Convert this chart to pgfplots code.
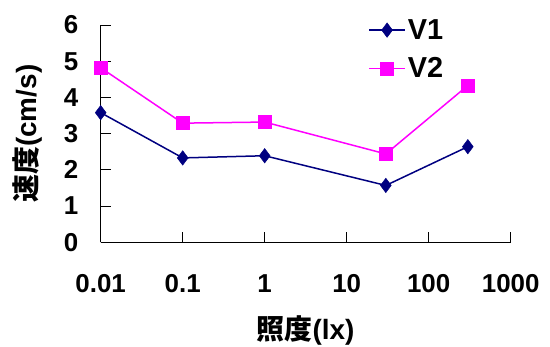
\documentclass[border=0pt]{standalone}
\usepackage{fontspec}
\setmainfont{Liberation Sans}
\newfontfamily\cjk{Noto Sans CJK JP}
\usepackage{pgfplots}
\pgfplotsset{compat=1.18}
\definecolor{vnavy}{RGB}{0,0,128}
\definecolor{vmag}{RGB}{255,0,255}
\begin{document}
\begin{tikzpicture}
\path[use as bounding box] (-100.7bp,-104.7bp) rectangle ++(550bp,347bp);
\begin{axis}[
  scale only axis, width=410bp, height=217.3bp,
  xmode=log, xmin=0.01, xmax=1000, ymin=0, ymax=6,
  axis x line*=bottom, axis y line*=left,
  xtick={0.01,0.1,1,10,100,1000}, xticklabels={0.01,0.1,1,10,100,1000},
  xminorticks=false,
  ytick={0,1,2,3,4,5,6},
  tick align=inside, major tick length=10bp,
  tick style={black, line width=0.8bp},
  axis line style={black, line width=0.8bp},
  /pgf/number format/assume math mode=true,
  ticklabel style={font=\fontsize{26}{30}\selectfont\bfseries},
  xticklabel style={yshift=-29bp},
  yticklabel style={xshift=-19bp},
  clip=false,
  xlabel={{\cjk\bfseries 照度}(lx)},
  ylabel={{\cjk\bfseries 速度}(cm/s)},
  label style={font=\fontsize{28}{32}\selectfont\bfseries},
  x label style={at={(axis description cs:0.5,-0.4036)}, anchor=center},
  y label style={at={(axis description cs:-0.1785,0.5)}, anchor=center},
  legend style={draw=none, fill=none, at={(axis description cs:0.645,1.045)}, anchor=north west,
    font=\fontsize{29}{32}\selectfont\bfseries, row sep=13bp},
  legend cell align=left,
  legend image code/.code={\draw[mark repeat=2,mark phase=2,#1] plot coordinates {(0bp,0bp)(18bp,0bp)(36bp,0bp)};},
]
\addplot[color=vnavy, line width=1.5bp, mark=diamond*, mark size=7.2bp, mark options={solid, fill=vnavy, line width=0.5bp}]
  coordinates {(0.01,3.58)(0.1,2.33)(1,2.39)(30,1.57)(300,2.64)};
\addlegendentry{V1}
\addplot[color=vmag, line width=1.5bp, mark=square*, mark size=6.5bp, mark options={solid, fill=vmag, line width=0.5bp}]
  coordinates {(0.01,4.82)(0.1,3.29)(1,3.32)(30,2.44)(300,4.33)};
\addlegendentry{V2}
\end{axis}
\end{tikzpicture}
\end{document}
